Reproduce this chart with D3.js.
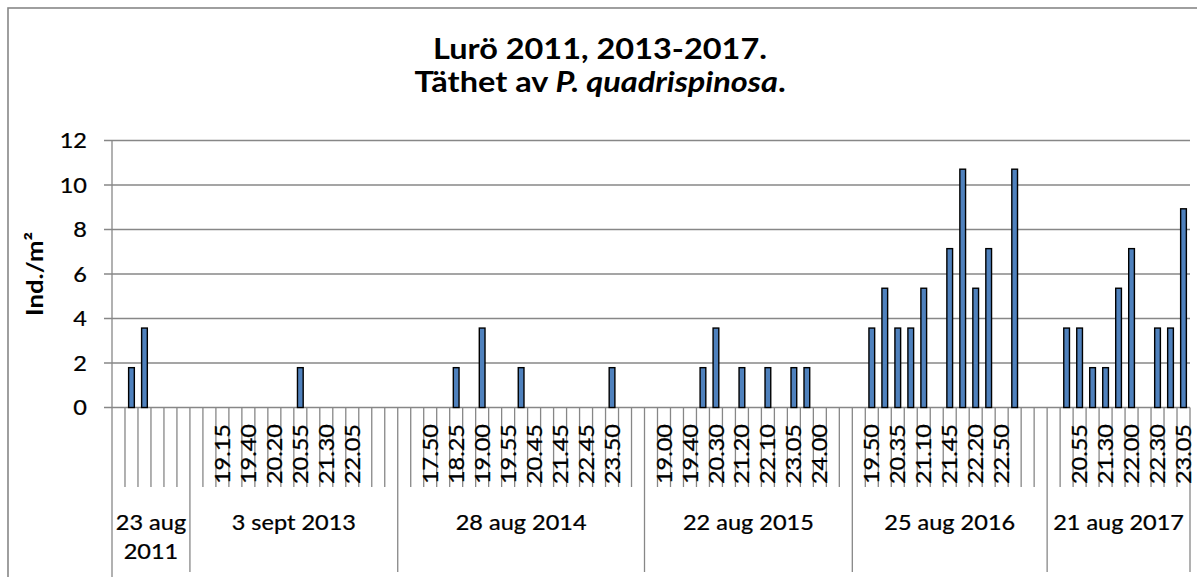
<!DOCTYPE html>
<html><head><meta charset="utf-8">
<script src="https://cdn.jsdelivr.net/npm/d3@7"></script>
<style>body{margin:0;background:#fff}svg{display:block}</style>
</head><body><svg id="c" width="1197" height="577"></svg>
<script>
// ---- data ----
const groupNames = ["23 aug 2011", "3 sept 2013", "28 aug 2014", "22 aug 2015", "25 aug 2016", "21 aug 2017"];
const times2011 = ["", "", "", "", "", ""];
const times2013 = ["", "", "19.15", "", "19.40", "", "20.20", "", "20.55", "", "21.30", "", "22.05", "", "", ""];
const times2014 = ["", "", "17.50", "", "18.25", "", "19.00", "", "19.55", "", "20.45", "", "21.45", "", "22.45", "", "23.50", "", ""];
const times2015 = ["", "19.00", "", "19.40", "", "20.30", "", "21.20", "", "22.10", "", "23.05", "", "24.00", "", ""];
const times2016 = ["", "19.50", "", "20.35", "", "21.10", "", "21.45", "", "22.20", "", "22.50", "", "", ""];
const times2017 = ["", "", "20.55", "", "21.30", "", "22.00", "", "22.30", "", "23.05"];
const v2011 = [0, 1.79, 3.57, 0, 0, 0];
const v2013 = [0, 0, 0, 0, 0, 0, 0, 0, 1.79, 0, 0, 0, 0, 0, 0, 0];
const v2014 = [0, 0, 0, 0, 1.79, 0, 3.57, 0, 0, 1.79, 0, 0, 0, 0, 0, 0, 1.79, 0, 0];
const v2015 = [0, 0, 0, 0, 1.79, 3.57, 0, 1.79, 0, 1.79, 0, 1.79, 1.79, 0, 0, 0];
const v2016 = [0, 3.57, 5.36, 3.57, 3.57, 5.36, 0, 7.14, 10.71, 5.36, 7.14, 0, 10.71, 0, 0];
const v2017 = [0, 3.57, 3.57, 1.79, 1.79, 5.36, 7.14, 0, 3.57, 3.57, 8.93];
const yTicks = [0, 2, 4, 6, 8, 10, 12];
const titleLine1 = "Lurö 2011, 2013-2017.";
const titleLine2 = [["Täthet av ", "normal"], ["P. quadrispinosa", "italic"], [".", "normal"]];
const yTitle = "Ind./m²";

// ---- build ----
const groupTimes = [times2011, times2013, times2014, times2015, times2016, times2017];
const groupValues = [v2011, v2013, v2014, v2015, v2016, v2017];
const cats = [];
groupTimes.forEach((ts, gi) => ts.forEach((t, j) => cats.push({ gi, t, v: groupValues[gi][j] })));

const FONT = "Lato, 'Open Sans', sans-serif";
const SX = 1.12;
const FS = 21;
const GRID = "#878787";
const M = { left: 112, right: 1190, top: 140.5, bottom: 407.5 };

const svg = d3.select("#c");
svg.append("rect").attr("x", 8).attr("y", 8).attr("width", 1250).attr("height", 650)
  .attr("fill", "#fff").attr("stroke", GRID).attr("stroke-width", 1.6);

const x = d3.scaleBand().domain(d3.range(cats.length)).range([M.left, M.right]);
const y = d3.scaleLinear().domain([0, 12]).range([M.bottom, M.top]);
const bw = x.bandwidth();

// gridlines + y ticks
svg.append("g").selectAll("line").data(yTicks).join("line")
  .attr("x1", M.left - 8).attr("x2", M.right)
  .attr("y1", d => y(d)).attr("y2", d => y(d))
  .attr("stroke", GRID).attr("stroke-width", 1.3);

svg.append("g").selectAll("text").data(yTicks).join("text")
  .attr("transform", d => `translate(87,${y(d)}) scale(${SX},1)`)
  .attr("dy", "0.36em").attr("text-anchor", "end")
  .attr("font-family", FONT).attr("font-size", FS).attr("fill", "#000")
  .attr("stroke", "#000").attr("stroke-width", 0.25)
  .text(d => d);

// category boundary ticks
const bounds = d3.range(cats.length + 1);
const groupStarts = new Set();
let acc = 0;
groupTimes.forEach(ts => { groupStarts.add(acc); acc += ts.length; });
groupStarts.add(acc);
const bx = i => i < cats.length ? x(i) : M.right;
svg.append("g").selectAll("line").data(bounds).join("line")
  .attr("x1", bx).attr("x2", bx)
  .attr("y1", M.bottom).attr("y2", i => groupStarts.has(i) ? (i === 0 ? 577 : 572) : 487)
  .attr("stroke", GRID).attr("stroke-width", 1.3);

// y axis line
svg.append("line").attr("x1", M.left).attr("x2", M.left).attr("y1", M.top).attr("y2", M.bottom)
  .attr("stroke", GRID).attr("stroke-width", 1.3);

// bars
const barW = bw * 0.44;
svg.append("g").selectAll("rect").data(cats.map((c, i) => ({ ...c, i })).filter(c => c.v > 0)).join("rect")
  .attr("x", d => x(d.i) + (bw - barW) / 2)
  .attr("y", d => y(d.v))
  .attr("width", barW)
  .attr("height", d => y(0) - y(d.v))
  .attr("fill", "#4F81BD").attr("stroke", "#000").attr("stroke-width", 1.4);

// time labels (rotated)
svg.append("g").selectAll("text").data(cats.map((c, i) => ({ ...c, i })).filter(c => c.t !== "")).join("text")
  .attr("transform", d => `translate(${x(d.i) + bw / 2},${424}) rotate(-90) scale(${SX},1)`)
  .attr("dy", "0.36em").attr("text-anchor", "end")
  .attr("font-family", FONT).attr("font-size", FS).attr("fill", "#000")
  .attr("stroke", "#000").attr("stroke-width", 0.25)
  .text(d => d.t);

// group labels
acc = 0;
groupTimes.forEach((ts, gi) => {
  const x0 = x(acc), x1 = bx(acc + ts.length);
  acc += ts.length;
  const cx = (x0 + x1) / 2;
  const t = svg.append("text")
    .attr("font-family", FONT).attr("font-size", FS).attr("fill", "#000")
    .attr("stroke", "#000").attr("stroke-width", 0.25)
    .attr("text-anchor", "middle")
    .attr("transform", `translate(${cx},530) scale(${SX},1)`)
    .text(groupNames[gi]);
  if (t.node().getComputedTextLength() * SX > (x1 - x0) - 4) {
    const words = groupNames[gi].split(" ");
    const lines = [words.slice(0, -1).join(" "), words[words.length - 1]];
    t.text(null);
    lines.forEach((l, k) => t.append("tspan").attr("x", 0).attr("dy", k === 0 ? 0 : 29).text(l));
  }
});

// title
const TS = 1.16;
svg.append("text").attr("transform", `translate(600,59) scale(${TS},1)`)
  .attr("text-anchor", "middle").attr("font-family", FONT).attr("font-size", 28).attr("font-weight", "bold")
  .text(titleLine1);
const t2 = svg.append("text").attr("transform", `translate(600,92) scale(${TS},1)`)
  .attr("text-anchor", "middle").attr("font-family", FONT).attr("font-size", 28).attr("font-weight", "bold");
titleLine2.forEach(([s, st]) => t2.append("tspan").attr("font-style", st).text(s));

// y title
svg.append("text").attr("transform", `translate(42.5,274) rotate(-90) scale(${SX},1)`)
  .attr("text-anchor", "middle").attr("font-family", FONT).attr("font-size", 23).attr("font-weight", "bold")
  .text(yTitle);
</script></body></html>
